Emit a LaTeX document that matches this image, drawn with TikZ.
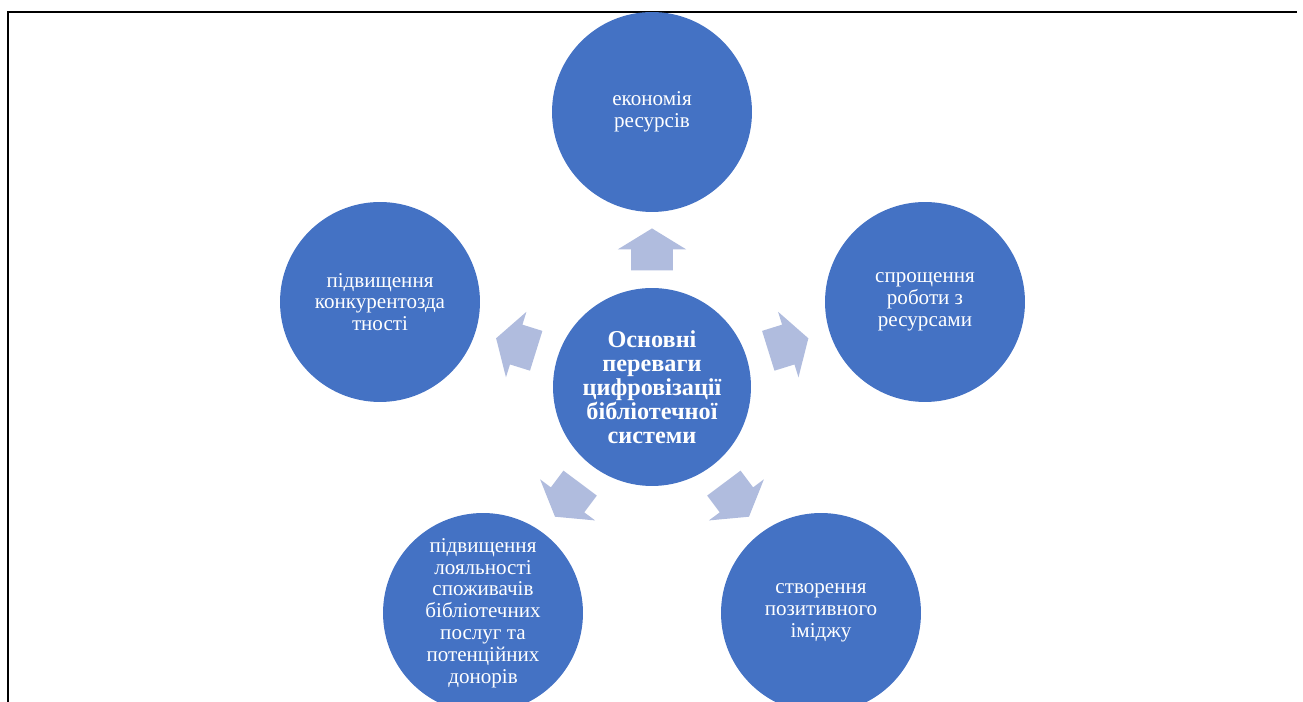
\documentclass[tikz,border=0pt]{standalone}
\usepackage{fontspec}
\setmainfont{Liberation Serif}
\usetikzlibrary{shapes.arrows,calc}
\definecolor{circblue}{RGB}{68,114,196}
\definecolor{arrblue}{RGB}{176,188,222}

\begin{document}
\begin{tikzpicture}[x=0.02cm,y=0.02cm,
  circ/.style={circle,fill=circblue,text=white,minimum size=4cm,inner sep=0pt,align=center,
    font=\fontsize{12}{12.4}\selectfont},
  blk/.style={single arrow,fill=arrblue,draw=none,inner xsep=0pt,inner ysep=0.41cm,
    minimum height=0.84cm,single arrow head extend=0.27cm,single arrow tip angle=117}]
\useasboundingbox (0,0) rectangle (1303,702);
\draw[line width=1.1pt] (8,0) -- (8,690) -- (1297,690);

\node[circ,minimum size=3.96cm,font=\bfseries\fontsize{13.8}{13.6}\selectfont] (c) at (652,315)
  {Основні\\переваги\\цифровізації\\бібліотечної\\системи};
\node[circ] (t) at (652,590) {економія\\ресурсів};
\node[circ] (r) at (925,400) {спрощення\\роботи з\\ресурсами};
\node[circ] (l) at (380,400) {підвищення\\конкурентозда\\тності};
\node[circ] (bl) at (483,89) {підвищення\\лояльності\\споживачів\\бібліотечних\\послуг та\\потенційних\\донорів};
\node[circ] (br) at (821,89) {створення\\позитивного\\іміджу};

% arrows between the middle and the outer circles
\foreach \o in {t,r,l,bl,br}
  \path let \p1=($(\o)-(c)$), \n1={atan2(\y1,\x1)} in
    node[blk,rotate=\n1] (a\o) at ($(c)!0.477!(\o)$) {};
\end{tikzpicture}
\end{document}
